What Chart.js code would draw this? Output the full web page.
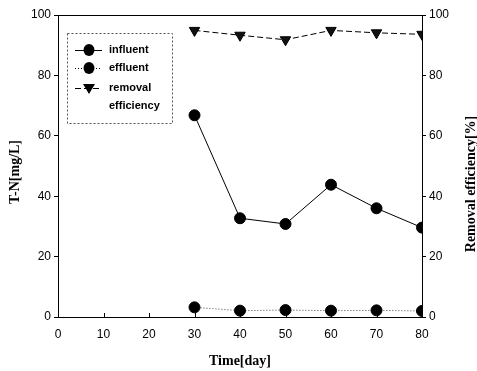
<!DOCTYPE html>
<html>
<head>
<meta charset="utf-8">
<script src="https://cdn.jsdelivr.net/npm/chart.js@4"></script>
<style>
  html, body { margin: 0; padding: 0; background: #fff; }
  #wrap { width: 477px; height: 371px; position: relative; }
</style>
</head>
<body>
<div id="wrap"><canvas id="chart" width="477" height="371"></canvas></div>
<script>
// Data
const days = [30, 40, 50, 60, 70, 80];
const influent = [66.8, 32.7, 30.8, 43.8, 36.0, 29.6];
const effluent = [3.2, 2.1, 2.3, 2.1, 2.2, 2.0];
const removalEfficiency = [94.9, 93.3, 91.8, 94.9, 94.1, 93.6];
const xTicks = [0, 10, 20, 30, 40, 50, 60, 70, 80];
const yTicks = [0, 20, 40, 60, 80, 100];

const tickFont = { family: "'Liberation Sans Narrow', 'Liberation Sans', Arial, sans-serif", size: 12 };
const titleFont = "bold 14px 'Liberation Serif', 'Times New Roman', serif";
const legendFont = "bold 11px 'Liberation Sans Narrow', 'Liberation Sans', Arial, sans-serif";

const toPoints = (xs, ys) => xs.map((x, i) => ({ x: x, y: ys[i] }));

// Frame, inward x ticks, axis titles and the boxed legend
const decorations = {
    id: 'decorations',
    afterDraw(chart) {
        const ctx = chart.ctx;
        const a = chart.chartArea;
        const xs = chart.scales.x;
        ctx.save();
        ctx.strokeStyle = '#000';
        ctx.lineWidth = 1;

        // top border
        ctx.beginPath();
        ctx.moveTo(a.left, a.top + 0.5);
        ctx.lineTo(a.right, a.top + 0.5);
        ctx.stroke();

        // x ticks pointing into the plot
        xTicks.forEach(v => {
            const px = Math.round(xs.getPixelForValue(v)) + 0.5;
            ctx.beginPath();
            ctx.moveTo(px, a.bottom);
            ctx.lineTo(px, a.bottom - 4);
            ctx.stroke();
        });

        // axis titles
        ctx.fillStyle = '#000';
        ctx.font = titleFont;
        ctx.textAlign = 'center';
        ctx.textBaseline = 'middle';
        ctx.fillText('Time[day]', (a.left + a.right) / 2, 361);

        ctx.save();
        ctx.translate(15, 172);
        ctx.rotate(-Math.PI / 2);
        ctx.fillText('T-N[mg/L]', 0, 0);
        ctx.restore();

        ctx.save();
        ctx.translate(471, 184);
        ctx.rotate(-Math.PI / 2);
        ctx.fillText('Removal efficiency[%]', 0, 0);
        ctx.restore();

        // legend box
        const bx = a.left + 9, by = a.top + 18, bw = 105, bh = 90;
        ctx.setLineDash([2, 2]);
        ctx.strokeStyle = '#555';
        ctx.strokeRect(bx + 0.5, by + 0.5, bw, bh);
        ctx.setLineDash([]);

        const rows = [
            { label: ['influent'], dash: [], marker: 'circle', y: by + 17 },
            { label: ['effluent'], dash: [1, 2], marker: 'circle', y: by + 35 },
            { label: ['removal', 'efficiency'], dash: [6, 3], marker: 'triangle', y: by + 55 }
        ];
        const lx0 = bx + 8, lx1 = bx + 35, mx = bx + 22, tx = bx + 42;
        ctx.font = legendFont;
        ctx.textAlign = 'left';
        rows.forEach(r => {
            ctx.strokeStyle = '#000';
            ctx.setLineDash(r.dash);
            ctx.beginPath();
            ctx.moveTo(lx0, r.y + 0.5);
            ctx.lineTo(lx1, r.y + 0.5);
            ctx.stroke();
            ctx.setLineDash([]);
            ctx.fillStyle = '#000';
            ctx.beginPath();
            if (r.marker === 'circle') {
                ctx.ellipse(mx, r.y, 5.5, 6, 0, 0, Math.PI * 2);
            } else {
                ctx.moveTo(mx - 6, r.y - 4);
                ctx.lineTo(mx + 6, r.y - 4);
                ctx.lineTo(mx, r.y + 6);
                ctx.closePath();
            }
            ctx.fill();
            r.label.forEach((t, i) => ctx.fillText(t, tx, r.y + i * 18));
        });
        ctx.restore();
    }
};

new Chart(document.getElementById('chart'), {
    type: 'line',
    data: {
        datasets: [
            {
                label: 'influent',
                data: toPoints(days, influent),
                yAxisID: 'y',
                borderColor: '#000',
                backgroundColor: '#000',
                borderWidth: 1,
                pointRadius: 5.5,
                pointStyle: 'circle',
                tension: 0
            },
            {
                label: 'effluent',
                data: toPoints(days, effluent),
                yAxisID: 'y',
                borderColor: '#444',
                backgroundColor: '#000',
                pointBorderColor: '#000',
                borderWidth: 1,
                borderDash: [1, 2],
                pointRadius: 5.5,
                pointStyle: 'circle',
                tension: 0
            },
            {
                label: 'removal efficiency',
                data: toPoints(days, removalEfficiency),
                yAxisID: 'y2',
                borderColor: '#000',
                backgroundColor: '#111',
                pointBorderColor: '#000',
                borderWidth: 1,
                borderDash: [6, 3],
                pointRadius: 6,
                pointStyle: 'triangle',
                pointRotation: 180,
                tension: 0
            }
        ]
    },
    options: {
        responsive: false,
        animation: false,
        devicePixelRatio: 1,
        layout: { padding: { top: 15, bottom: 0, left: 0, right: 0 } },
        plugins: {
            legend: { display: false },
            tooltip: { enabled: false }
        },
        scales: {
            x: {
                type: 'linear',
                min: 0,
                max: 80,
                afterBuildTicks: s => { s.ticks = xTicks.map(v => ({ value: v })); },
                afterFit: s => { s.height = 54; },
                grid: { display: false, drawTicks: false },
                border: { display: true, color: '#000', width: 1 },
                ticks: { color: '#000', font: tickFont, padding: 10, maxRotation: 0 }
            },
            y: {
                position: 'left',
                min: 0,
                max: 100,
                afterBuildTicks: s => { s.ticks = yTicks.map(v => ({ value: v })); },
                afterFit: s => { s.width = 58; },
                grid: { drawOnChartArea: false, drawTicks: true, tickLength: 4, color: '#000' },
                border: { display: true, color: '#000', width: 1 },
                ticks: { color: '#000', font: tickFont, padding: 3 }
            },
            y2: {
                position: 'right',
                min: 0,
                max: 100,
                afterBuildTicks: s => { s.ticks = yTicks.map(v => ({ value: v })); },
                afterFit: s => { s.width = 55; },
                grid: { drawOnChartArea: false, drawTicks: true, tickLength: 4, color: '#000' },
                border: { display: true, color: '#000', width: 1 },
                ticks: { color: '#000', font: tickFont, padding: 3 }
            }
        }
    },
    plugins: [decorations]
});
</script>
</body>
</html>
